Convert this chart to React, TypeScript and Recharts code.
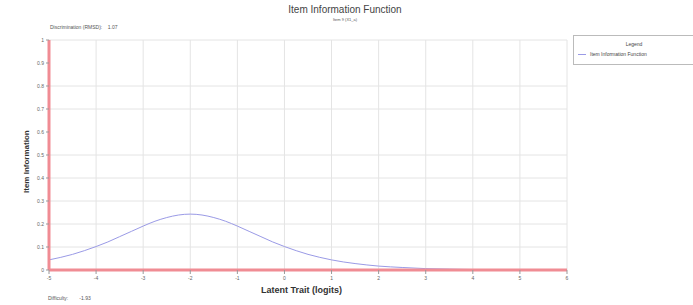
import React from 'react';
import { LineChart, Line, XAxis, YAxis, CartesianGrid } from 'recharts';

// latent trait positions (logits) and the information
const theta = [
  -5, -4.75, -4.5, -4.25, -4, -3.75, -3.5, -3.25, -3, -2.75, -2.5, -2.25, -2,
  -1.75, -1.5, -1.25, -1, -0.75, -0.5, -0.25, 0, 0.25, 0.5, 0.75, 1, 1.25, 1.5,
  1.75, 2, 2.5, 3, 3.5, 4, 4.5, 5, 5.5, 6,
];
const information = [
  0.044, 0.055, 0.068, 0.084, 0.102, 0.122, 0.145, 0.168, 0.191, 0.212, 0.228,
  0.239, 0.243, 0.239, 0.228, 0.212, 0.191, 0.168, 0.145, 0.122, 0.102, 0.084,
  0.068, 0.055, 0.044, 0.035, 0.028, 0.022, 0.017, 0.011, 0.006, 0.004, 0.002,
  0.0015, 0.001, 0.0006, 0.0004,
];
const xTicks = [-5, -4, -3, -2, -1, 0, 1, 2, 3, 4, 5, 6];
const yTicks = [0, 0.1, 0.2, 0.3, 0.4, 0.5, 0.6, 0.7, 0.8, 0.9, 1];

const data = theta.map((t, i) => ({ theta: t, info: information[i] }));

const font = '"Liberation Sans", Arial, sans-serif';
const axisRed = '#f08c94';
const curveBlue = '#9a9ae6';

const smallText: React.CSSProperties = {
  position: 'absolute',
  fontSize: 5,
  color: '#555',
  whiteSpace: 'pre',
};

const LegendBox = () => (
  <div
    style={{
      position: 'absolute',
      left: 573,
      top: 35,
      width: 130,
      height: 28,
      border: '1px solid #bbb',
      background: '#fff',
      fontFamily: font,
      fontSize: 5,
      color: '#444',
    }}
  >
    <div style={{ textAlign: 'center', marginTop: 5, width: 120 }}>Legend</div>
    <div style={{ display: 'flex', alignItems: 'center', marginTop: 4, marginLeft: 4 }}>
      <span style={{ display: 'inline-block', width: 8, height: 1, background: curveBlue, marginRight: 4 }} />
      Item Information Function
    </div>
  </div>
);

export default function App() {
  return (
    <div style={{ position: 'absolute', left: 0, top: 0, width: 693, height: 305, background: '#fff', fontFamily: font }}>
      <div style={{ position: 'absolute', left: 0, width: 690, top: 4, textAlign: 'center', fontSize: 10, color: '#444' }}>
        Item Information Function
      </div>
      <div style={{ ...smallText, left: 0, width: 690, top: 17, textAlign: 'center', fontSize: 4 }}>Item 9 (X1_a)</div>
      <div style={{ ...smallText, left: 50, top: 24 }}>{'Discrimination (RMSD):    1.07'}</div>
      <div style={{ ...smallText, left: 48, top: 295 }}>{'Difficulty:        -1.93'}</div>
      <div
        style={{
          position: 'absolute',
          left: 261,
          top: 285,
          fontSize: 9,
          fontWeight: 'bold',
          color: '#333',
          whiteSpace: 'pre',
        }}
      >
        Latent Trait (logits)
      </div>
      <LineChart
        width={693}
        height={305}
        data={data}
        margin={{ top: 40, right: 126, left: 29, bottom: 15 }}
        style={{ position: 'absolute', left: 0, top: 0 }}
      >
        <CartesianGrid stroke="#e4e4e4" strokeWidth={1} />
        <XAxis
          dataKey="theta"
          type="number"
          domain={[-5, 6]}
          ticks={xTicks}
          height={20}
          axisLine={{ stroke: axisRed, strokeWidth: 3 }}
          tickLine={{ stroke: '#999' }}
          tickSize={4}
          tick={{ fontSize: 5, fill: '#666' }}
        />
        <YAxis
          type="number"
          domain={[0, 1]}
          ticks={yTicks}
          width={20}
          axisLine={{ stroke: axisRed, strokeWidth: 3 }}
          tickLine={{ stroke: '#999' }}
          tickSize={3}
          tick={{ fontSize: 5, fill: '#666' }}
          label={{
            value: 'Item Information',
            angle: -90,
            position: 'insideLeft',
            dx: -8,
            dy: 38,
            style: { fontSize: 8, fontWeight: 'bold', fill: '#333' },
          }}
        />
        <Line
          type="monotone"
          dataKey="info"
          stroke={curveBlue}
          strokeWidth={1}
          dot={false}
          isAnimationActive={false}
        />
      </LineChart>
      <LegendBox />
    </div>
  );
}
